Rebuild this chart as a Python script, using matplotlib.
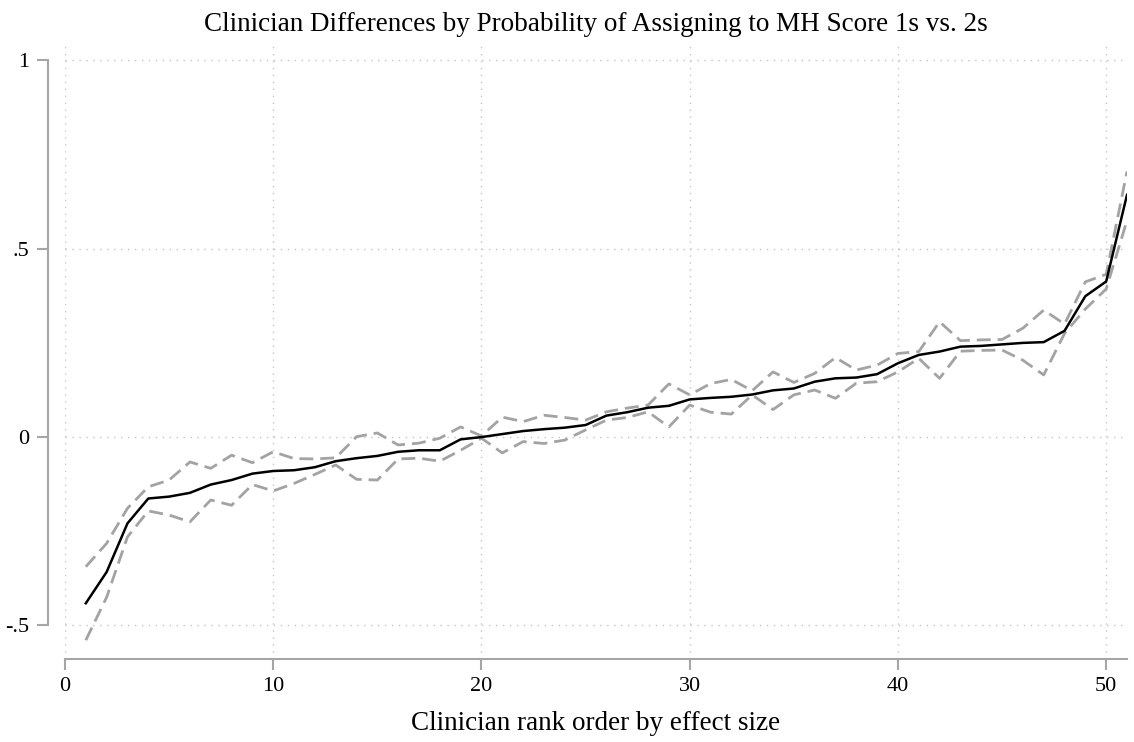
import matplotlib
matplotlib.use('Agg')
import matplotlib.pyplot as plt

# clinician rank order 1..51
rank = list(range(1, 52))

# point estimate (solid line)
est = [-0.441, -0.358, -0.229, -0.163, -0.158, -0.148, -0.126, -0.114, -0.097, -0.090,
       -0.088, -0.080, -0.064, -0.056, -0.050, -0.039, -0.035, -0.035, -0.006, 0.000,
       0.008, 0.016, 0.021, 0.025, 0.032, 0.057, 0.066, 0.078, 0.083, 0.100,
       0.104, 0.107, 0.113, 0.124, 0.129, 0.147, 0.156, 0.158, 0.167, 0.196,
       0.218, 0.227, 0.240, 0.242, 0.246, 0.250, 0.252, 0.282, 0.374, 0.413, 0.643]

# dashed bounds
ci_a = [-0.344, -0.282, -0.189, -0.132, -0.114, -0.066, -0.083, -0.048, -0.068, -0.039,
        -0.057, -0.058, -0.055, 0.001, 0.011, -0.021, -0.016, -0.003, 0.027, 0.003,
        0.053, 0.041, 0.058, 0.052, 0.045, 0.067, 0.077, 0.085, 0.141, 0.112,
        0.142, 0.153, 0.123, 0.173, 0.145, 0.169, 0.211, 0.178, 0.191, 0.222,
        0.227, 0.306, 0.256, 0.258, 0.259, 0.289, 0.337, 0.300, 0.412, 0.432, 0.705]

ci_b = [-0.539, -0.425, -0.265, -0.196, -0.207, -0.225, -0.167, -0.181, -0.126, -0.143,
        -0.123, -0.099, -0.074, -0.112, -0.114, -0.058, -0.056, -0.064, -0.035, -0.003,
        -0.042, -0.012, -0.017, -0.008, 0.019, 0.045, 0.052, 0.067, 0.027, 0.085,
        0.066, 0.061, 0.112, 0.073, 0.112, 0.125, 0.103, 0.143, 0.147, 0.173,
        0.209, 0.156, 0.228, 0.230, 0.231, 0.204, 0.165, 0.275, 0.340, 0.393, 0.575]

x_ticks = [0, 10, 20, 30, 40, 50]
y_ticks = [-0.5, 0, 0.5, 1]
y_tick_labels = ['-.5', '0', '.5', '1']

plt.rcParams['font.family'] = ['Liberation Serif', 'DejaVu Serif']

fig = plt.figure(figsize=(11.34, 7.42), dpi=100)
ax = fig.add_axes([65 / 1134, 83 / 742, 1062 / 1134, 613 / 742])

axis_gray = '#a6a6a6'
ax.grid(True, linestyle=(0, (1, 4)), color='#c4c4c4', linewidth=1.0)
ax.set_axisbelow(True)

ax.plot(rank, ci_a, color='#a3a3a3', linewidth=2.0, dashes=(5, 2.5))
ax.plot(rank, ci_b, color='#a3a3a3', linewidth=2.0, dashes=(5, 2.5))
ax.plot(rank, est, color='black', linewidth=1.8)

ax.set_xlim(0, 51)
ax.set_ylim(-0.589, 1.038)
ax.set_xticks(x_ticks)
ax.set_yticks(y_ticks)
ax.set_yticklabels(y_tick_labels)

for side in ['top', 'right']:
    ax.spines[side].set_visible(False)
ax.spines['left'].set_position(('outward', 12.5))
ax.spines['left'].set_bounds(-0.5, 1)
ax.spines['left'].set_color(axis_gray)
ax.spines['left'].set_linewidth(1.5)
ax.spines['bottom'].set_color(axis_gray)
ax.spines['bottom'].set_linewidth(1.5)

ax.tick_params(axis='both', colors=axis_gray, labelcolor='black', width=1.5,
               length=8, labelsize=16, pad=5)

ax.set_title('Clinician Differences by Probability of Assigning to MH Score 1s vs. 2s',
             fontsize=19.5, pad=11)
ax.set_xlabel('Clinician rank order by effect size', fontsize=19.5, labelpad=11)

fig.savefig('out.png', dpi=100)
